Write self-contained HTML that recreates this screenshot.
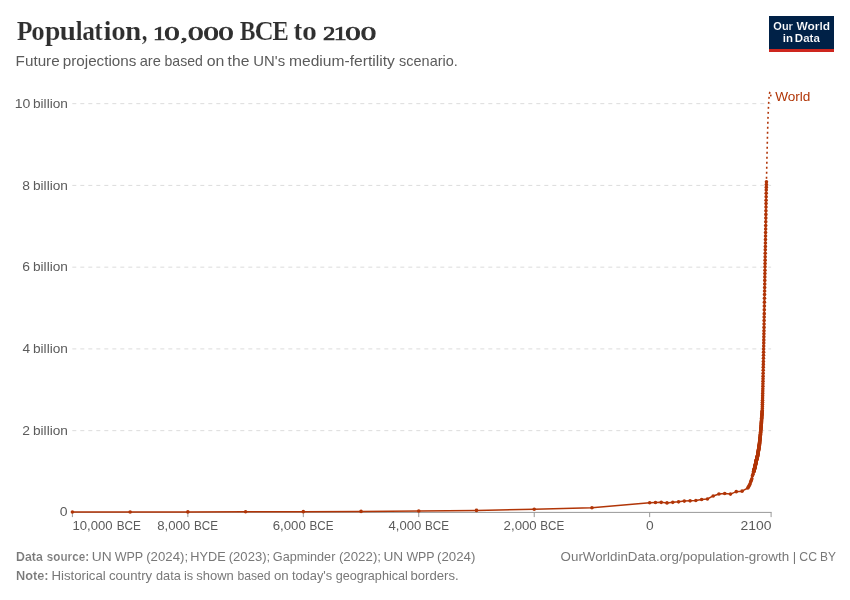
<!DOCTYPE html>
<html lang="en"><head><meta charset="utf-8"><title>Population, 10,000 BCE to 2100</title>
<style>html,body{margin:0;padding:0;background:#fff}svg{display:block}text{white-space:pre}</style></head>
<body>
<svg width="850" height="600" viewBox="0 0 850 600" style="font-family:'Liberation Sans',sans-serif">
<rect width="850" height="600" fill="#fff"/>
<g stroke="#dcdcdc" stroke-width="1" stroke-dasharray="4,4" fill="none">
<line x1="72.3" y1="103.65" x2="771.1" y2="103.65"/>
<line x1="72.3" y1="185.4" x2="771.1" y2="185.4"/>
<line x1="72.3" y1="267.15" x2="771.1" y2="267.15"/>
<line x1="72.3" y1="348.9" x2="771.1" y2="348.9"/>
<line x1="72.3" y1="430.65" x2="771.1" y2="430.65"/>
</g>
<g stroke="#999" stroke-width="1" fill="none">
<line x1="72.4" y1="512.4" x2="771.6" y2="512.4"/>
<line x1="72.40" y1="512.4" x2="72.40" y2="517.1"/>
<line x1="187.85" y1="512.4" x2="187.85" y2="517.1"/>
<line x1="303.31" y1="512.4" x2="303.31" y2="517.1"/>
<line x1="418.76" y1="512.4" x2="418.76" y2="517.1"/>
<line x1="534.22" y1="512.4" x2="534.22" y2="517.1"/>
<line x1="649.67" y1="512.4" x2="649.67" y2="517.1"/>
<line x1="771.10" y1="512.4" x2="771.10" y2="517.1"/>
</g>
<path d="M766.45,181.72 L766.51,178.92 L766.57,176.12 L766.63,173.32 L766.69,170.52 L766.74,167.72 L766.80,164.92 L766.86,162.12 L766.92,159.62 L766.97,157.13 L767.03,154.64 L767.09,152.15 L767.15,149.66 L767.21,147.16 L767.26,144.67 L767.32,142.18 L767.38,139.69 L767.44,137.20 L767.49,135.24 L767.55,133.28 L767.61,131.31 L767.67,129.35 L767.73,127.39 L767.78,125.43 L767.84,123.47 L767.90,121.51 L767.96,119.55 L768.01,117.59 L768.07,116.24 L768.13,114.89 L768.19,113.54 L768.24,112.20 L768.30,110.85 L768.36,109.50 L768.42,108.15 L768.48,106.80 L768.53,105.46 L768.59,104.11 L768.65,103.29 L768.71,102.47 L768.76,101.66 L768.82,100.84 L768.88,100.02 L768.94,99.21 L769.00,98.39 L769.05,97.57 L769.11,96.76 L769.17,95.94 L769.23,95.57 L769.28,95.20 L769.34,94.84 L769.40,94.47 L769.46,94.10 L769.51,93.73 L769.57,93.36 L769.63,93.00 L769.69,92.63 L769.75,92.26 L769.80,92.16 L769.86,92.06 L769.92,91.96 L769.98,91.85 L770.03,91.99 L770.09,92.13 L770.15,92.26 L770.21,92.40 L770.26,92.53 L770.32,92.67 L770.38,93.04 L770.44,93.41 L770.50,93.77 L770.55,94.14 L770.61,94.51 L770.67,94.88 L770.73,95.24 L770.78,95.61 L770.84,95.98 L770.90,96.35" fill="none" stroke="#B13507" stroke-width="1.6" stroke-dasharray="1.9,3.1" stroke-dashoffset="2" stroke-linejoin="round"/>
<path d="M72.40,512.02 L130.13,511.97 L187.85,511.91 L245.58,511.81 L303.31,511.66 L361.04,511.42 L418.76,511.02 L476.49,510.38 L534.22,509.23 L591.95,507.69 L649.67,502.72 L655.45,502.52 L661.22,502.37 L666.99,502.91 L672.76,502.33 L678.54,501.86 L684.31,501.11 L690.08,500.84 L695.85,500.53 L701.63,499.50 L707.40,498.99 L713.17,495.95 L718.95,494.03 L724.72,493.56 L730.49,494.12 L736.26,491.64 L742.04,491.13 L747.81,488.03 L748.39,487.00 L748.96,485.93 L749.54,485.03 L750.12,483.85 L750.70,481.77 L751.27,480.38 L751.85,478.78 L752.43,475.80 L753.00,474.13 L753.58,471.96 L753.64,471.78 L753.70,471.60 L753.75,471.41 L753.81,471.23 L753.87,471.04 L753.93,470.86 L753.99,470.68 L754.04,470.49 L754.10,470.31 L754.16,470.12 L754.22,469.88 L754.27,469.63 L754.33,469.39 L754.39,469.14 L754.45,468.90 L754.51,468.65 L754.56,468.41 L754.62,468.16 L754.68,467.92 L754.74,467.67 L754.79,467.43 L754.85,467.18 L754.91,466.94 L754.97,466.69 L755.02,466.45 L755.08,466.20 L755.14,465.96 L755.20,465.71 L755.26,465.47 L755.31,465.22 L755.37,464.98 L755.43,464.73 L755.49,464.49 L755.54,464.24 L755.60,464.00 L755.66,463.75 L755.72,463.51 L755.78,463.26 L755.83,463.02 L755.89,462.77 L755.95,462.49 L756.01,462.20 L756.06,461.91 L756.12,461.63 L756.18,461.34 L756.24,461.06 L756.29,460.77 L756.35,460.48 L756.41,460.20 L756.47,459.91 L756.53,459.71 L756.58,459.50 L756.64,459.30 L756.70,459.10 L756.76,458.89 L756.81,458.69 L756.87,458.48 L756.93,458.28 L756.99,458.07 L757.05,457.87 L757.10,457.62 L757.16,457.38 L757.22,457.13 L757.28,456.89 L757.33,456.64 L757.39,456.40 L757.45,456.15 L757.51,455.91 L757.56,455.66 L757.62,455.42 L757.68,455.09 L757.74,454.76 L757.80,454.44 L757.85,454.11 L757.91,453.78 L757.97,453.46 L758.03,453.13 L758.08,452.80 L758.14,452.48 L758.20,452.15 L758.26,451.78 L758.32,451.42 L758.37,451.05 L758.43,450.68 L758.49,450.31 L758.55,449.94 L758.60,449.58 L758.66,449.21 L758.72,448.84 L758.78,448.47 L758.83,448.11 L758.89,447.74 L758.95,447.37 L759.01,447.00 L759.07,446.64 L759.12,446.27 L759.18,445.90 L759.24,445.53 L759.30,445.17 L759.35,444.80 L759.41,444.27 L759.47,443.74 L759.53,443.20 L759.59,442.67 L759.64,442.14 L759.70,441.61 L759.76,441.08 L759.82,440.55 L759.87,440.02 L759.93,439.49 L759.99,438.92 L760.05,438.34 L760.11,437.77 L760.16,437.20 L760.22,436.63 L760.28,436.06 L760.34,435.48 L760.39,434.91 L760.45,434.34 L760.51,433.77 L760.57,433.03 L760.62,432.30 L760.68,431.56 L760.74,430.83 L760.80,430.09 L760.86,429.36 L760.91,428.62 L760.97,427.89 L761.03,427.15 L761.09,426.42 L761.14,425.60 L761.20,424.78 L761.26,423.96 L761.32,423.15 L761.38,422.33 L761.43,421.51 L761.49,420.70 L761.55,419.88 L761.61,419.06 L761.66,418.25 L761.72,417.47 L761.78,416.69 L761.84,415.92 L761.89,415.14 L761.95,414.36 L762.01,413.59 L762.07,412.81 L762.13,412.04 L762.18,411.26 L762.24,410.48 L762.30,408.44 L762.36,406.40 L762.41,404.36 L762.47,402.31 L762.53,400.27 L762.59,397.98 L762.64,395.70 L762.70,393.41 L762.76,391.12 L762.82,388.83 L762.88,386.30 L762.93,383.77 L762.99,381.23 L763.05,378.70 L763.11,376.17 L763.16,373.23 L763.22,370.29 L763.28,367.35 L763.34,364.40 L763.40,361.46 L763.45,358.36 L763.51,355.25 L763.57,352.15 L763.63,349.05 L763.68,345.94 L763.74,342.92 L763.80,339.89 L763.86,336.87 L763.91,333.85 L763.97,330.83 L764.03,327.39 L764.09,323.96 L764.15,320.53 L764.20,317.10 L764.26,313.67 L764.32,309.83 L764.38,305.99 L764.43,302.15 L764.49,298.31 L764.55,294.47 L764.61,290.96 L764.67,287.44 L764.72,283.93 L764.78,280.42 L764.84,276.90 L764.90,273.55 L764.95,270.20 L765.01,266.85 L765.07,263.51 L765.13,260.16 L765.18,256.72 L765.24,253.29 L765.30,249.86 L765.36,246.43 L765.42,243.00 L765.47,239.49 L765.53,235.97 L765.59,232.46 L765.65,228.95 L765.70,225.43 L765.76,221.76 L765.82,218.08 L765.88,214.40 L765.94,210.73 L765.99,207.05 L766.05,203.62 L766.11,200.19 L766.17,196.76 L766.22,193.32 L766.28,189.89 L766.34,187.17 L766.40,184.45 L766.45,181.72" fill="none" stroke="#B13507" stroke-width="1.5" stroke-linejoin="round" stroke-linecap="butt"/>
<g fill="#B13507">
<circle cx="72.40" cy="512.02" r="1.8"/><circle cx="130.13" cy="511.97" r="1.8"/><circle cx="187.85" cy="511.91" r="1.8"/><circle cx="245.58" cy="511.81" r="1.8"/><circle cx="303.31" cy="511.66" r="1.8"/><circle cx="361.04" cy="511.42" r="1.8"/><circle cx="418.76" cy="511.02" r="1.8"/><circle cx="476.49" cy="510.38" r="1.8"/><circle cx="534.22" cy="509.23" r="1.8"/><circle cx="591.95" cy="507.69" r="1.8"/><circle cx="649.67" cy="502.72" r="1.8"/><circle cx="655.45" cy="502.52" r="1.8"/><circle cx="661.22" cy="502.37" r="1.8"/><circle cx="666.99" cy="502.91" r="1.8"/><circle cx="672.76" cy="502.33" r="1.8"/><circle cx="678.54" cy="501.86" r="1.8"/><circle cx="684.31" cy="501.11" r="1.8"/><circle cx="690.08" cy="500.84" r="1.8"/><circle cx="695.85" cy="500.53" r="1.8"/><circle cx="701.63" cy="499.50" r="1.8"/><circle cx="707.40" cy="498.99" r="1.8"/><circle cx="713.17" cy="495.95" r="1.8"/><circle cx="718.95" cy="494.03" r="1.8"/><circle cx="724.72" cy="493.56" r="1.8"/><circle cx="730.49" cy="494.12" r="1.8"/><circle cx="736.26" cy="491.64" r="1.8"/><circle cx="742.04" cy="491.13" r="1.8"/><circle cx="747.81" cy="488.03" r="1.8"/><circle cx="748.39" cy="487.00" r="1.8"/><circle cx="748.96" cy="485.93" r="1.8"/><circle cx="749.54" cy="485.03" r="1.8"/><circle cx="750.12" cy="483.85" r="1.8"/><circle cx="750.70" cy="481.77" r="1.8"/><circle cx="751.27" cy="480.38" r="1.8"/><circle cx="751.85" cy="478.78" r="1.8"/><circle cx="752.43" cy="475.80" r="1.8"/><circle cx="753.00" cy="474.13" r="1.8"/><circle cx="753.58" cy="471.96" r="1.8"/><circle cx="753.64" cy="471.78" r="1.8"/><circle cx="753.70" cy="471.60" r="1.8"/><circle cx="753.75" cy="471.41" r="1.8"/><circle cx="753.81" cy="471.23" r="1.8"/><circle cx="753.87" cy="471.04" r="1.8"/><circle cx="753.93" cy="470.86" r="1.8"/><circle cx="753.99" cy="470.68" r="1.8"/><circle cx="754.04" cy="470.49" r="1.8"/><circle cx="754.10" cy="470.31" r="1.8"/><circle cx="754.16" cy="470.12" r="1.8"/><circle cx="754.22" cy="469.88" r="1.8"/><circle cx="754.27" cy="469.63" r="1.8"/><circle cx="754.33" cy="469.39" r="1.8"/><circle cx="754.39" cy="469.14" r="1.8"/><circle cx="754.45" cy="468.90" r="1.8"/><circle cx="754.51" cy="468.65" r="1.8"/><circle cx="754.56" cy="468.41" r="1.8"/><circle cx="754.62" cy="468.16" r="1.8"/><circle cx="754.68" cy="467.92" r="1.8"/><circle cx="754.74" cy="467.67" r="1.8"/><circle cx="754.79" cy="467.43" r="1.8"/><circle cx="754.85" cy="467.18" r="1.8"/><circle cx="754.91" cy="466.94" r="1.8"/><circle cx="754.97" cy="466.69" r="1.8"/><circle cx="755.02" cy="466.45" r="1.8"/><circle cx="755.08" cy="466.20" r="1.8"/><circle cx="755.14" cy="465.96" r="1.8"/><circle cx="755.20" cy="465.71" r="1.8"/><circle cx="755.26" cy="465.47" r="1.8"/><circle cx="755.31" cy="465.22" r="1.8"/><circle cx="755.37" cy="464.98" r="1.8"/><circle cx="755.43" cy="464.73" r="1.8"/><circle cx="755.49" cy="464.49" r="1.8"/><circle cx="755.54" cy="464.24" r="1.8"/><circle cx="755.60" cy="464.00" r="1.8"/><circle cx="755.66" cy="463.75" r="1.8"/><circle cx="755.72" cy="463.51" r="1.8"/><circle cx="755.78" cy="463.26" r="1.8"/><circle cx="755.83" cy="463.02" r="1.8"/><circle cx="755.89" cy="462.77" r="1.8"/><circle cx="755.95" cy="462.49" r="1.8"/><circle cx="756.01" cy="462.20" r="1.8"/><circle cx="756.06" cy="461.91" r="1.8"/><circle cx="756.12" cy="461.63" r="1.8"/><circle cx="756.18" cy="461.34" r="1.8"/><circle cx="756.24" cy="461.06" r="1.8"/><circle cx="756.29" cy="460.77" r="1.8"/><circle cx="756.35" cy="460.48" r="1.8"/><circle cx="756.41" cy="460.20" r="1.8"/><circle cx="756.47" cy="459.91" r="1.8"/><circle cx="756.53" cy="459.71" r="1.8"/><circle cx="756.58" cy="459.50" r="1.8"/><circle cx="756.64" cy="459.30" r="1.8"/><circle cx="756.70" cy="459.10" r="1.8"/><circle cx="756.76" cy="458.89" r="1.8"/><circle cx="756.81" cy="458.69" r="1.8"/><circle cx="756.87" cy="458.48" r="1.8"/><circle cx="756.93" cy="458.28" r="1.8"/><circle cx="756.99" cy="458.07" r="1.8"/><circle cx="757.05" cy="457.87" r="1.8"/><circle cx="757.10" cy="457.62" r="1.8"/><circle cx="757.16" cy="457.38" r="1.8"/><circle cx="757.22" cy="457.13" r="1.8"/><circle cx="757.28" cy="456.89" r="1.8"/><circle cx="757.33" cy="456.64" r="1.8"/><circle cx="757.39" cy="456.40" r="1.8"/><circle cx="757.45" cy="456.15" r="1.8"/><circle cx="757.51" cy="455.91" r="1.8"/><circle cx="757.56" cy="455.66" r="1.8"/><circle cx="757.62" cy="455.42" r="1.8"/><circle cx="757.68" cy="455.09" r="1.8"/><circle cx="757.74" cy="454.76" r="1.8"/><circle cx="757.80" cy="454.44" r="1.8"/><circle cx="757.85" cy="454.11" r="1.8"/><circle cx="757.91" cy="453.78" r="1.8"/><circle cx="757.97" cy="453.46" r="1.8"/><circle cx="758.03" cy="453.13" r="1.8"/><circle cx="758.08" cy="452.80" r="1.8"/><circle cx="758.14" cy="452.48" r="1.8"/><circle cx="758.20" cy="452.15" r="1.8"/><circle cx="758.26" cy="451.78" r="1.8"/><circle cx="758.32" cy="451.42" r="1.8"/><circle cx="758.37" cy="451.05" r="1.8"/><circle cx="758.43" cy="450.68" r="1.8"/><circle cx="758.49" cy="450.31" r="1.8"/><circle cx="758.55" cy="449.94" r="1.8"/><circle cx="758.60" cy="449.58" r="1.8"/><circle cx="758.66" cy="449.21" r="1.8"/><circle cx="758.72" cy="448.84" r="1.8"/><circle cx="758.78" cy="448.47" r="1.8"/><circle cx="758.83" cy="448.11" r="1.8"/><circle cx="758.89" cy="447.74" r="1.8"/><circle cx="758.95" cy="447.37" r="1.8"/><circle cx="759.01" cy="447.00" r="1.8"/><circle cx="759.07" cy="446.64" r="1.8"/><circle cx="759.12" cy="446.27" r="1.8"/><circle cx="759.18" cy="445.90" r="1.8"/><circle cx="759.24" cy="445.53" r="1.8"/><circle cx="759.30" cy="445.17" r="1.8"/><circle cx="759.35" cy="444.80" r="1.8"/><circle cx="759.41" cy="444.27" r="1.8"/><circle cx="759.47" cy="443.74" r="1.8"/><circle cx="759.53" cy="443.20" r="1.8"/><circle cx="759.59" cy="442.67" r="1.8"/><circle cx="759.64" cy="442.14" r="1.8"/><circle cx="759.70" cy="441.61" r="1.8"/><circle cx="759.76" cy="441.08" r="1.8"/><circle cx="759.82" cy="440.55" r="1.8"/><circle cx="759.87" cy="440.02" r="1.8"/><circle cx="759.93" cy="439.49" r="1.8"/><circle cx="759.99" cy="438.92" r="1.8"/><circle cx="760.05" cy="438.34" r="1.8"/><circle cx="760.11" cy="437.77" r="1.8"/><circle cx="760.16" cy="437.20" r="1.8"/><circle cx="760.22" cy="436.63" r="1.8"/><circle cx="760.28" cy="436.06" r="1.8"/><circle cx="760.34" cy="435.48" r="1.8"/><circle cx="760.39" cy="434.91" r="1.8"/><circle cx="760.45" cy="434.34" r="1.8"/><circle cx="760.51" cy="433.77" r="1.8"/><circle cx="760.57" cy="433.03" r="1.8"/><circle cx="760.62" cy="432.30" r="1.8"/><circle cx="760.68" cy="431.56" r="1.8"/><circle cx="760.74" cy="430.83" r="1.8"/><circle cx="760.80" cy="430.09" r="1.8"/><circle cx="760.86" cy="429.36" r="1.8"/><circle cx="760.91" cy="428.62" r="1.8"/><circle cx="760.97" cy="427.89" r="1.8"/><circle cx="761.03" cy="427.15" r="1.8"/><circle cx="761.09" cy="426.42" r="1.8"/><circle cx="761.14" cy="425.60" r="1.8"/><circle cx="761.20" cy="424.78" r="1.8"/><circle cx="761.26" cy="423.96" r="1.8"/><circle cx="761.32" cy="423.15" r="1.8"/><circle cx="761.38" cy="422.33" r="1.8"/><circle cx="761.43" cy="421.51" r="1.8"/><circle cx="761.49" cy="420.70" r="1.8"/><circle cx="761.55" cy="419.88" r="1.8"/><circle cx="761.61" cy="419.06" r="1.8"/><circle cx="761.66" cy="418.25" r="1.8"/><circle cx="761.72" cy="417.47" r="1.8"/><circle cx="761.78" cy="416.69" r="1.8"/><circle cx="761.84" cy="415.92" r="1.8"/><circle cx="761.89" cy="415.14" r="1.8"/><circle cx="761.95" cy="414.36" r="1.8"/><circle cx="762.01" cy="413.59" r="1.8"/><circle cx="762.07" cy="412.81" r="1.8"/><circle cx="762.13" cy="412.04" r="1.8"/><circle cx="762.18" cy="411.26" r="1.8"/><circle cx="762.24" cy="410.48" r="1.8"/><circle cx="762.30" cy="408.44" r="1.8"/><circle cx="762.36" cy="406.40" r="1.8"/><circle cx="762.41" cy="404.36" r="1.8"/><circle cx="762.47" cy="402.31" r="1.8"/><circle cx="762.53" cy="400.27" r="1.8"/><circle cx="762.59" cy="397.98" r="1.8"/><circle cx="762.64" cy="395.70" r="1.8"/><circle cx="762.70" cy="393.41" r="1.8"/><circle cx="762.76" cy="391.12" r="1.8"/><circle cx="762.82" cy="388.83" r="1.8"/><circle cx="762.88" cy="386.30" r="1.8"/><circle cx="762.93" cy="383.77" r="1.8"/><circle cx="762.99" cy="381.23" r="1.8"/><circle cx="763.05" cy="378.70" r="1.8"/><circle cx="763.11" cy="376.17" r="1.8"/><circle cx="763.16" cy="373.23" r="1.8"/><circle cx="763.22" cy="370.29" r="1.8"/><circle cx="763.28" cy="367.35" r="1.8"/><circle cx="763.34" cy="364.40" r="1.8"/><circle cx="763.40" cy="361.46" r="1.8"/><circle cx="763.45" cy="358.36" r="1.8"/><circle cx="763.51" cy="355.25" r="1.8"/><circle cx="763.57" cy="352.15" r="1.8"/><circle cx="763.63" cy="349.05" r="1.8"/><circle cx="763.68" cy="345.94" r="1.8"/><circle cx="763.74" cy="342.92" r="1.8"/><circle cx="763.80" cy="339.89" r="1.8"/><circle cx="763.86" cy="336.87" r="1.8"/><circle cx="763.91" cy="333.85" r="1.8"/><circle cx="763.97" cy="330.83" r="1.8"/><circle cx="764.03" cy="327.39" r="1.8"/><circle cx="764.09" cy="323.96" r="1.8"/><circle cx="764.15" cy="320.53" r="1.8"/><circle cx="764.20" cy="317.10" r="1.8"/><circle cx="764.26" cy="313.67" r="1.8"/><circle cx="764.32" cy="309.83" r="1.8"/><circle cx="764.38" cy="305.99" r="1.8"/><circle cx="764.43" cy="302.15" r="1.8"/><circle cx="764.49" cy="298.31" r="1.8"/><circle cx="764.55" cy="294.47" r="1.8"/><circle cx="764.61" cy="290.96" r="1.8"/><circle cx="764.67" cy="287.44" r="1.8"/><circle cx="764.72" cy="283.93" r="1.8"/><circle cx="764.78" cy="280.42" r="1.8"/><circle cx="764.84" cy="276.90" r="1.8"/><circle cx="764.90" cy="273.55" r="1.8"/><circle cx="764.95" cy="270.20" r="1.8"/><circle cx="765.01" cy="266.85" r="1.8"/><circle cx="765.07" cy="263.51" r="1.8"/><circle cx="765.13" cy="260.16" r="1.8"/><circle cx="765.18" cy="256.72" r="1.8"/><circle cx="765.24" cy="253.29" r="1.8"/><circle cx="765.30" cy="249.86" r="1.8"/><circle cx="765.36" cy="246.43" r="1.8"/><circle cx="765.42" cy="243.00" r="1.8"/><circle cx="765.47" cy="239.49" r="1.8"/><circle cx="765.53" cy="235.97" r="1.8"/><circle cx="765.59" cy="232.46" r="1.8"/><circle cx="765.65" cy="228.95" r="1.8"/><circle cx="765.70" cy="225.43" r="1.8"/><circle cx="765.76" cy="221.76" r="1.8"/><circle cx="765.82" cy="218.08" r="1.8"/><circle cx="765.88" cy="214.40" r="1.8"/><circle cx="765.94" cy="210.73" r="1.8"/><circle cx="765.99" cy="207.05" r="1.8"/><circle cx="766.05" cy="203.62" r="1.8"/><circle cx="766.11" cy="200.19" r="1.8"/><circle cx="766.17" cy="196.76" r="1.8"/><circle cx="766.22" cy="193.32" r="1.8"/><circle cx="766.28" cy="189.89" r="1.8"/><circle cx="766.34" cy="187.17" r="1.8"/><circle cx="766.40" cy="184.45" r="1.8"/><circle cx="766.45" cy="181.72" r="1.8"/>
</g>
<rect x="769" y="16" width="65" height="36" fill="#002147"/>
<rect x="769" y="49" width="65" height="3" fill="#ce261e"/>
<text y="40.1" fill="#2f2f2f"><tspan x="16.65" textLength="15.85" lengthAdjust="spacingAndGlyphs" font-family="'Liberation Serif',serif" font-size="26.8" font-weight="bold" stroke="#ffffff" stroke-width="0.2">P</tspan><tspan x="31.24" textLength="13.53" lengthAdjust="spacingAndGlyphs" font-family="'Liberation Serif',serif" font-size="26.8" font-weight="bold" stroke="#ffffff" stroke-width="0.2">o</tspan><tspan x="44.93" textLength="15.37" lengthAdjust="spacingAndGlyphs" font-family="'Liberation Serif',serif" font-size="26.8" font-weight="bold" stroke="#ffffff" stroke-width="0.2">p</tspan><tspan x="59.63" textLength="16.56" lengthAdjust="spacingAndGlyphs" font-family="'Liberation Serif',serif" font-size="26.8" font-weight="bold" stroke="#ffffff" stroke-width="0.2">u</tspan><tspan x="75.64" textLength="6.89" lengthAdjust="spacingAndGlyphs" font-family="'Liberation Serif',serif" font-size="26.8" font-weight="bold" stroke="#ffffff" stroke-width="0.2">l</tspan><tspan x="82.33" textLength="12.76" lengthAdjust="spacingAndGlyphs" font-family="'Liberation Serif',serif" font-size="26.8" font-weight="bold" stroke="#ffffff" stroke-width="0.2">a</tspan><tspan x="94.25" textLength="8.46" lengthAdjust="spacingAndGlyphs" font-family="'Liberation Serif',serif" font-size="26.8" font-weight="bold" stroke="#ffffff" stroke-width="0.2">t</tspan><tspan x="103.44" textLength="8.15" lengthAdjust="spacingAndGlyphs" font-family="'Liberation Serif',serif" font-size="26.8" font-weight="bold" stroke="#ffffff" stroke-width="0.2">i</tspan><tspan x="111.27" textLength="14.48" lengthAdjust="spacingAndGlyphs" font-family="'Liberation Serif',serif" font-size="26.8" font-weight="bold" stroke="#ffffff" stroke-width="0.2">o</tspan><tspan x="124.91" textLength="16.35" lengthAdjust="spacingAndGlyphs" font-family="'Liberation Serif',serif" font-size="26.8" font-weight="bold" stroke="#ffffff" stroke-width="0.2">n</tspan><tspan x="141.69" textLength="5.64" lengthAdjust="spacingAndGlyphs" font-family="'Liberation Serif',serif" font-size="26.8" font-weight="bold" stroke="#ffffff" stroke-width="0.2">,</tspan> <tspan x="153.06" textLength="12.48" lengthAdjust="spacingAndGlyphs" font-family="'Liberation Serif',serif" font-size="18.4" stroke="#2f2f2f" stroke-width="0.7">1</tspan><tspan x="164.29" textLength="15.33" lengthAdjust="spacingAndGlyphs" font-family="'Liberation Serif',serif" font-size="18.4" stroke="#2f2f2f" stroke-width="0.7">0</tspan><tspan x="180.48" textLength="7.24" lengthAdjust="spacingAndGlyphs" font-family="'Liberation Serif',serif" font-size="18.4" stroke="#2f2f2f" stroke-width="0.7">,</tspan><tspan x="188.08" textLength="15.45" lengthAdjust="spacingAndGlyphs" font-family="'Liberation Serif',serif" font-size="18.4" stroke="#2f2f2f" stroke-width="0.7">0</tspan><tspan x="203.40" textLength="15.21" lengthAdjust="spacingAndGlyphs" font-family="'Liberation Serif',serif" font-size="18.4" stroke="#2f2f2f" stroke-width="0.7">0</tspan><tspan x="218.62" textLength="14.97" lengthAdjust="spacingAndGlyphs" font-family="'Liberation Serif',serif" font-size="18.4" stroke="#2f2f2f" stroke-width="0.7">0</tspan> <tspan x="239.81" textLength="15.77" lengthAdjust="spacingAndGlyphs" font-family="'Liberation Serif',serif" font-size="26.8" font-weight="bold" stroke="#ffffff" stroke-width="0.2">B</tspan><tspan x="254.43" textLength="19.23" lengthAdjust="spacingAndGlyphs" font-family="'Liberation Serif',serif" font-size="26.8" font-weight="bold" stroke="#ffffff" stroke-width="0.2">C</tspan><tspan x="272.38" textLength="16.31" lengthAdjust="spacingAndGlyphs" font-family="'Liberation Serif',serif" font-size="26.8" font-weight="bold" stroke="#ffffff" stroke-width="0.2">E</tspan> <tspan x="293.43" textLength="8.79" lengthAdjust="spacingAndGlyphs" font-family="'Liberation Serif',serif" font-size="26.8" font-weight="bold" stroke="#ffffff" stroke-width="0.2">t</tspan><tspan x="302.03" textLength="14.96" lengthAdjust="spacingAndGlyphs" font-family="'Liberation Serif',serif" font-size="26.8" font-weight="bold" stroke="#ffffff" stroke-width="0.2">o</tspan> <tspan x="322.91" textLength="12.35" lengthAdjust="spacingAndGlyphs" font-family="'Liberation Serif',serif" font-size="18.4" stroke="#2f2f2f" stroke-width="0.7">2</tspan><tspan x="333.77" textLength="12.96" lengthAdjust="spacingAndGlyphs" font-family="'Liberation Serif',serif" font-size="18.4" stroke="#2f2f2f" stroke-width="0.7">1</tspan><tspan x="345.39" textLength="15.33" lengthAdjust="spacingAndGlyphs" font-family="'Liberation Serif',serif" font-size="18.4" stroke="#2f2f2f" stroke-width="0.7">0</tspan><tspan x="360.68" textLength="15.45" lengthAdjust="spacingAndGlyphs" font-family="'Liberation Serif',serif" font-size="18.4" stroke="#2f2f2f" stroke-width="0.7">0</tspan></text>
<text y="66.4" fill="#5b5b5b"><tspan x="15.63" textLength="44.03" lengthAdjust="spacingAndGlyphs" font-family="'Liberation Sans',sans-serif" font-size="15">Future</tspan> <tspan x="62.78" textLength="73.58" lengthAdjust="spacingAndGlyphs" font-family="'Liberation Sans',sans-serif" font-size="15">projections</tspan> <tspan x="139.72" textLength="21.19" lengthAdjust="spacingAndGlyphs" font-family="'Liberation Sans',sans-serif" font-size="15">are</tspan> <tspan x="164.56" textLength="38.33" lengthAdjust="spacingAndGlyphs" font-family="'Liberation Sans',sans-serif" font-size="15">based</tspan> <tspan x="206.77" textLength="17.67" lengthAdjust="spacingAndGlyphs" font-family="'Liberation Sans',sans-serif" font-size="15">on</tspan> <tspan x="227.63" textLength="21.76" lengthAdjust="spacingAndGlyphs" font-family="'Liberation Sans',sans-serif" font-size="15">the</tspan> <tspan x="253.33" textLength="31.79" lengthAdjust="spacingAndGlyphs" font-family="'Liberation Sans',sans-serif" font-size="15">UN's</tspan> <tspan x="289.01" textLength="105.77" lengthAdjust="spacingAndGlyphs" font-family="'Liberation Sans',sans-serif" font-size="15">medium-fertility</tspan> <tspan x="399.11" textLength="58.69" lengthAdjust="spacingAndGlyphs" font-family="'Liberation Sans',sans-serif" font-size="15">scenario.</tspan></text>
<text y="107.9" fill="#5b5b5b"><tspan x="14.72" textLength="15.68" lengthAdjust="spacingAndGlyphs" font-family="'Liberation Sans',sans-serif" font-size="13">10</tspan> <tspan x="32.99" textLength="34.92" lengthAdjust="spacingAndGlyphs" font-family="'Liberation Sans',sans-serif" font-size="13">billion</tspan></text>
<text y="189.65" fill="#5b5b5b"><tspan x="22.36" textLength="7.70" lengthAdjust="spacingAndGlyphs" font-family="'Liberation Sans',sans-serif" font-size="13">8</tspan> <tspan x="32.99" textLength="34.92" lengthAdjust="spacingAndGlyphs" font-family="'Liberation Sans',sans-serif" font-size="13">billion</tspan></text>
<text y="271.4" fill="#5b5b5b"><tspan x="22.33" textLength="7.72" lengthAdjust="spacingAndGlyphs" font-family="'Liberation Sans',sans-serif" font-size="13">6</tspan> <tspan x="32.99" textLength="34.92" lengthAdjust="spacingAndGlyphs" font-family="'Liberation Sans',sans-serif" font-size="13">billion</tspan></text>
<text y="353.15" fill="#5b5b5b"><tspan x="22.46" textLength="7.59" lengthAdjust="spacingAndGlyphs" font-family="'Liberation Sans',sans-serif" font-size="13">4</tspan> <tspan x="32.99" textLength="34.92" lengthAdjust="spacingAndGlyphs" font-family="'Liberation Sans',sans-serif" font-size="13">billion</tspan></text>
<text y="434.9" fill="#5b5b5b"><tspan x="22.34" textLength="7.72" lengthAdjust="spacingAndGlyphs" font-family="'Liberation Sans',sans-serif" font-size="13">2</tspan> <tspan x="32.99" textLength="34.92" lengthAdjust="spacingAndGlyphs" font-family="'Liberation Sans',sans-serif" font-size="13">billion</tspan></text>
<text y="516.4" fill="#5b5b5b"><tspan x="59.71" textLength="7.80" lengthAdjust="spacingAndGlyphs" font-family="'Liberation Sans',sans-serif" font-size="13">0</tspan></text>
<text y="530.3" fill="#5b5b5b"><tspan x="72.49" textLength="40.19" lengthAdjust="spacingAndGlyphs" font-family="'Liberation Sans',sans-serif" font-size="13">10,000</tspan> <tspan x="116.72" textLength="24.24" lengthAdjust="spacingAndGlyphs" font-family="'Liberation Sans',sans-serif" font-size="13">BCE</tspan></text>
<text y="530.3" fill="#5b5b5b"><tspan x="157.17" textLength="33.06" lengthAdjust="spacingAndGlyphs" font-family="'Liberation Sans',sans-serif" font-size="13">8,000</tspan> <tspan x="193.93" textLength="24.03" lengthAdjust="spacingAndGlyphs" font-family="'Liberation Sans',sans-serif" font-size="13">BCE</tspan></text>
<text y="530.3" fill="#5b5b5b"><tspan x="272.69" textLength="33.15" lengthAdjust="spacingAndGlyphs" font-family="'Liberation Sans',sans-serif" font-size="13">6,000</tspan> <tspan x="309.43" textLength="24.03" lengthAdjust="spacingAndGlyphs" font-family="'Liberation Sans',sans-serif" font-size="13">BCE</tspan></text>
<text y="530.3" fill="#5b5b5b"><tspan x="388.58" textLength="32.74" lengthAdjust="spacingAndGlyphs" font-family="'Liberation Sans',sans-serif" font-size="13">4,000</tspan> <tspan x="424.93" textLength="24.03" lengthAdjust="spacingAndGlyphs" font-family="'Liberation Sans',sans-serif" font-size="13">BCE</tspan></text>
<text y="530.3" fill="#5b5b5b"><tspan x="503.61" textLength="33.12" lengthAdjust="spacingAndGlyphs" font-family="'Liberation Sans',sans-serif" font-size="13">2,000</tspan> <tspan x="540.33" textLength="24.03" lengthAdjust="spacingAndGlyphs" font-family="'Liberation Sans',sans-serif" font-size="13">BCE</tspan></text>
<text y="530.3" fill="#5b5b5b"><tspan x="646.12" textLength="7.68" lengthAdjust="spacingAndGlyphs" font-family="'Liberation Sans',sans-serif" font-size="13">0</tspan></text>
<text y="530.3" fill="#5b5b5b"><tspan x="740.58" textLength="30.95" lengthAdjust="spacingAndGlyphs" font-family="'Liberation Sans',sans-serif" font-size="13">2100</tspan></text>
<text y="100.8" fill="#B13507"><tspan x="775.16" textLength="35.26" lengthAdjust="spacingAndGlyphs" font-family="'Liberation Sans',sans-serif" font-size="13">World</tspan></text>
<text y="560.6" fill="#787878"><tspan x="16.07" textLength="26.75" lengthAdjust="spacingAndGlyphs" font-family="'Liberation Sans',sans-serif" font-size="13" font-weight="bold" stroke="#ffffff" stroke-width="0.15">Data</tspan> <tspan x="46.86" textLength="42.18" lengthAdjust="spacingAndGlyphs" font-family="'Liberation Sans',sans-serif" font-size="13" font-weight="bold" stroke="#ffffff" stroke-width="0.15">source:</tspan> <tspan x="91.84" textLength="19.89" lengthAdjust="spacingAndGlyphs" font-family="'Liberation Sans',sans-serif" font-size="13">UN</tspan> <tspan x="114.68" textLength="28.55" lengthAdjust="spacingAndGlyphs" font-family="'Liberation Sans',sans-serif" font-size="13">WPP</tspan> <tspan x="146.23" textLength="41.87" lengthAdjust="spacingAndGlyphs" font-family="'Liberation Sans',sans-serif" font-size="13">(2024);</tspan> <tspan x="190.34" textLength="35.37" lengthAdjust="spacingAndGlyphs" font-family="'Liberation Sans',sans-serif" font-size="13">HYDE</tspan> <tspan x="228.74" textLength="41.45" lengthAdjust="spacingAndGlyphs" font-family="'Liberation Sans',sans-serif" font-size="13">(2023);</tspan> <tspan x="272.82" textLength="62.54" lengthAdjust="spacingAndGlyphs" font-family="'Liberation Sans',sans-serif" font-size="13">Gapminder</tspan> <tspan x="338.93" textLength="42.08" lengthAdjust="spacingAndGlyphs" font-family="'Liberation Sans',sans-serif" font-size="13">(2022);</tspan> <tspan x="383.45" textLength="19.78" lengthAdjust="spacingAndGlyphs" font-family="'Liberation Sans',sans-serif" font-size="13">UN</tspan> <tspan x="406.38" textLength="28.24" lengthAdjust="spacingAndGlyphs" font-family="'Liberation Sans',sans-serif" font-size="13">WPP</tspan> <tspan x="437.03" textLength="38.37" lengthAdjust="spacingAndGlyphs" font-family="'Liberation Sans',sans-serif" font-size="13">(2024)</tspan></text>
<text y="580.0" fill="#787878"><tspan x="16.04" textLength="32.58" lengthAdjust="spacingAndGlyphs" font-family="'Liberation Sans',sans-serif" font-size="13" font-weight="bold" stroke="#ffffff" stroke-width="0.15">Note:</tspan> <tspan x="51.40" textLength="54.38" lengthAdjust="spacingAndGlyphs" font-family="'Liberation Sans',sans-serif" font-size="13">Historical</tspan> <tspan x="108.91" textLength="43.21" lengthAdjust="spacingAndGlyphs" font-family="'Liberation Sans',sans-serif" font-size="13">country</tspan> <tspan x="156.03" textLength="24.74" lengthAdjust="spacingAndGlyphs" font-family="'Liberation Sans',sans-serif" font-size="13">data</tspan> <tspan x="183.92" textLength="9.26" lengthAdjust="spacingAndGlyphs" font-family="'Liberation Sans',sans-serif" font-size="13">is</tspan> <tspan x="196.29" textLength="37.46" lengthAdjust="spacingAndGlyphs" font-family="'Liberation Sans',sans-serif" font-size="13">shown</tspan> <tspan x="237.39" textLength="33.18" lengthAdjust="spacingAndGlyphs" font-family="'Liberation Sans',sans-serif" font-size="13">based</tspan> <tspan x="274.00" textLength="14.75" lengthAdjust="spacingAndGlyphs" font-family="'Liberation Sans',sans-serif" font-size="13">on</tspan> <tspan x="291.89" textLength="40.40" lengthAdjust="spacingAndGlyphs" font-family="'Liberation Sans',sans-serif" font-size="13">today's</tspan> <tspan x="335.64" textLength="72.18" lengthAdjust="spacingAndGlyphs" font-family="'Liberation Sans',sans-serif" font-size="13">geographical</tspan> <tspan x="410.52" textLength="48.18" lengthAdjust="spacingAndGlyphs" font-family="'Liberation Sans',sans-serif" font-size="13">borders.</tspan></text>
<text y="560.6" fill="#787878"><tspan x="560.63" textLength="122.06" lengthAdjust="spacingAndGlyphs" font-family="'Liberation Sans',sans-serif" font-size="13">OurWorldinData.org/</tspan><tspan x="682.51" textLength="106.60" lengthAdjust="spacingAndGlyphs" font-family="'Liberation Sans',sans-serif" font-size="13">population-growth</tspan> <tspan x="792.67" textLength="3.44" lengthAdjust="spacingAndGlyphs" font-family="'Liberation Sans',sans-serif" font-size="13">|</tspan> <tspan x="799.34" textLength="17.69" lengthAdjust="spacingAndGlyphs" font-family="'Liberation Sans',sans-serif" font-size="13">CC</tspan> <tspan x="820.01" textLength="15.90" lengthAdjust="spacingAndGlyphs" font-family="'Liberation Sans',sans-serif" font-size="13">BY</tspan></text>
<text y="30.4" fill="#ffffff"><tspan x="773.37" textLength="19.55" lengthAdjust="spacingAndGlyphs" font-family="'Liberation Sans',sans-serif" font-size="11.4" font-weight="bold" stroke="#002147" stroke-width="0.15">Our</tspan> <tspan x="796.53" textLength="33.51" lengthAdjust="spacingAndGlyphs" font-family="'Liberation Sans',sans-serif" font-size="11.4" font-weight="bold" stroke="#002147" stroke-width="0.15">World</tspan></text>
<text y="42.4" fill="#ffffff"><tspan x="782.73" textLength="10.17" lengthAdjust="spacingAndGlyphs" font-family="'Liberation Sans',sans-serif" font-size="11.4" font-weight="bold" stroke="#002147" stroke-width="0.15">in</tspan> <tspan x="794.83" textLength="24.97" lengthAdjust="spacingAndGlyphs" font-family="'Liberation Sans',sans-serif" font-size="11.4" font-weight="bold" stroke="#002147" stroke-width="0.15">Data</tspan></text>
</svg>
</body></html>
